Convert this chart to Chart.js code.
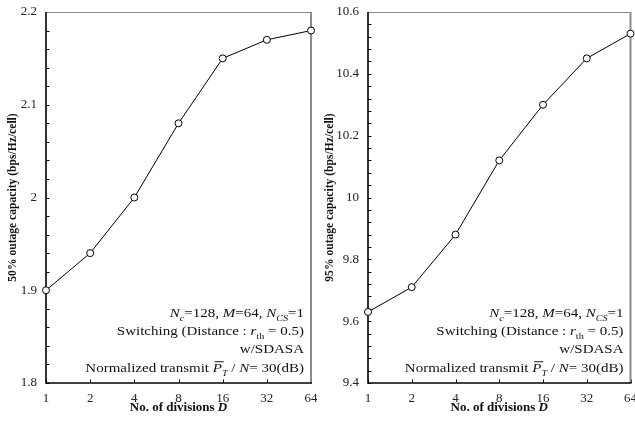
<!DOCTYPE html>
<html><head><meta charset="utf-8">
<script src="https://cdn.jsdelivr.net/npm/chart.js@4/dist/chart.umd.min.js"></script>
<style>
html,body{margin:0;padding:0;background:#fff;}
#wrap{position:relative;width:635px;height:421px;overflow:hidden;background:#fff;}
#c1{position:absolute;left:0;top:0;}
#c2{position:absolute;left:317px;top:0;}
</style></head><body>
<div id="wrap"><canvas id="c1" width="317" height="421"></canvas><canvas id="c2" width="318" height="421"></canvas></div>
<script>
// ---- data ----
const divisions = ['1', '2', '4', '8', '16', '32', '64'];
const outage50 = [1.90, 1.94, 2.00, 2.08, 2.15, 2.17, 2.18];
const outage95 = [9.63, 9.71, 9.88, 10.12, 10.30, 10.45, 10.53];
const yTicks50 = [1.8, 1.9, 2.0, 2.1, 2.2];
const yTicks95 = [9.4, 9.6, 9.8, 10.0, 10.2, 10.4, 10.6];
const yMinorStep50 = 0.02;
const yMinorStep95 = 0.04;
const yTitle50 = '50% outage capacity (bps/Hz/cell)';
const yTitle95 = '95% outage capacity (bps/Hz/cell)';
const xTitleText = 'No. of divisions ';
const xTitleVar = 'D';

const SERIF = '"Liberation Serif", "Times New Roman", serif';

// annotation lines (rich text segments)
const noteLines = [
  [{t:'N',it:1},{t:'c',it:1,sub:1},{t:'=128, '},{t:'M',it:1},{t:'=64, '},{t:'N',it:1},{t:'CS',it:1,sub:1},{t:'=1'}],
  [{t:'Switching (Distance : '},{t:'r',it:1},{t:'th',sub:1},{t:' = 0.5)'}],
  [{t:'w/SDASA'}],
  [{t:'Normalized transmit '},{t:'P',it:1,bar:1},{t:'T',it:1,sub:1},{t:' / '},{t:'N',it:1},{t:'= 30(dB)'}]
];

function drawRich(ctx, segs, x, yBase, size, sx, align, bold) {
  let total = 0;
  const parts = segs.map(s => {
    const fs = s.sub ? size * 0.68 : size;
    const font = (s.it ? 'italic ' : '') + (bold ? 'bold ' : '') + fs + 'px ' + SERIF;
    ctx.font = font;
    const w = ctx.measureText(s.t).width;
    total += w;
    return {s, font, w};
  });
  ctx.save();
  ctx.translate(x, yBase);
  ctx.scale(sx, 1);
  let cx = align === 'right' ? -total : (align === 'center' ? -total / 2 : 0);
  ctx.fillStyle = '#111';
  ctx.textBaseline = 'alphabetic';
  ctx.textAlign = 'left';
  for (const p of parts) {
    ctx.font = p.font;
    const dy = p.s.sub ? size * 0.3 : 0;
    ctx.fillText(p.s.t, cx, dy);
    if (p.s.bar) ctx.fillRect(cx + 1.5, -size * 0.86, p.w, 1);
    cx += p.w;
  }
  ctx.restore();
}

const framePlugin = {
  id: 'frame',
  beforeDatasetsDraw(chart, args, opts) {
    const {ctx, chartArea: a, scales} = chart;
    ctx.save();
    ctx.strokeStyle = '#000';
    ctx.lineWidth = 1;
    const ys = scales.y;
    const n = Math.round((ys.max - ys.min) / opts.minor);
    for (let i = 0; i <= n; i++) {
      const v = ys.min + i * opts.minor;
      const py = Math.round(ys.getPixelForValue(v)) + 0.5;
      ctx.beginPath(); ctx.moveTo(a.left, py); ctx.lineTo(a.left + 3.5, py); ctx.stroke();
    }
    const xs = scales.x;
    divisions.forEach((d, i) => {
      const px = Math.round(xs.getPixelForValue(i)) + 0.5;
      ctx.beginPath(); ctx.moveTo(px, a.bottom); ctx.lineTo(px, a.bottom - 3.5); ctx.stroke();
    });
    ctx.strokeStyle = '#8a8a8a';
    ctx.lineWidth = 1;
    ctx.beginPath(); ctx.moveTo(a.left, a.top + 0.5); ctx.lineTo(a.right, a.top + 0.5); ctx.stroke();
    ctx.lineWidth = 2;
    ctx.beginPath(); ctx.moveTo(a.right, a.top); ctx.lineTo(a.right, a.bottom); ctx.stroke();
    ctx.strokeStyle = '#000';
    ctx.lineWidth = 1.6;
    ctx.beginPath(); ctx.moveTo(a.left, a.top); ctx.lineTo(a.left, a.bottom + 0.8); ctx.stroke();
    ctx.lineWidth = 1.4;
    ctx.beginPath(); ctx.moveTo(a.left, a.bottom); ctx.lineTo(a.right + 1, a.bottom); ctx.stroke();
    ctx.restore();
  },
  afterDraw(chart) {
    const {ctx, chartArea: a} = chart;
    const offs = [66, 48, 30, 11];
    noteLines.forEach((segs, i) => drawRich(ctx, segs, a.right - 7, a.bottom - offs[i], 12.5, 1.2, 'right', false));
    drawRich(ctx, [{t: xTitleText}, {t: xTitleVar, it: 1}], (a.left + a.right) / 2, 411, 13, 1, 'center', true);
  }
};

function makeChart(id, values, ticks, minor, yTitle, yWidth, padRight) {
  return new Chart(document.getElementById(id), {
    type: 'line',
    data: {
      labels: divisions,
      datasets: [{
        data: values,
        borderColor: '#000', borderWidth: 1,
        pointRadius: 3.5, pointHoverRadius: 3.5,
        pointBackgroundColor: '#fff', pointBorderColor: '#000', pointBorderWidth: 1,
        tension: 0, fill: false, clip: false
      }]
    },
    options: {
      responsive: false, animation: false, devicePixelRatio: 1, events: [],
      layout: {padding: {top: 12, right: padRight, left: 0, bottom: 0}},
      plugins: {legend: {display: false}, tooltip: {enabled: false}, frame: {minor}},
      scales: {
        x: {
          type: 'category', offset: false,
          grid: {display: false, drawTicks: false}, border: {display: false},
          ticks: {font: {family: SERIF, size: 13}, color: '#222', padding: 8, maxRotation: 0, autoSkip: false},
          afterFit(s) { s.height = 38; s.paddingLeft = 0; s.paddingRight = 0; }
        },
        y: {
          min: ticks[0], max: ticks[ticks.length - 1],
          grid: {display: false, drawTicks: false}, border: {display: false},
          afterBuildTicks(s) { s.ticks = ticks.map(v => ({value: v})); },
          ticks: {font: {family: SERIF, size: 13}, color: '#222', padding: 9,
                  callback: v => String(Math.round(v * 10) / 10)},
          title: {display: true, text: yTitle, color: '#111',
                  font: {family: SERIF, size: 11.6, weight: 'bold'}, padding: {top: 6, bottom: 0}},
          afterFit(s) { s.width = yWidth; s.paddingTop = 0; s.paddingBottom = 0; }
        }
      }
    },
    plugins: [framePlugin]
  });
}

makeChart('c1', outage50, yTicks50, yMinorStep50, yTitle50, 46, 6);
makeChart('c2', outage95, yTicks95, yMinorStep95, yTitle95, 51, 4);
</script>
</body></html>
